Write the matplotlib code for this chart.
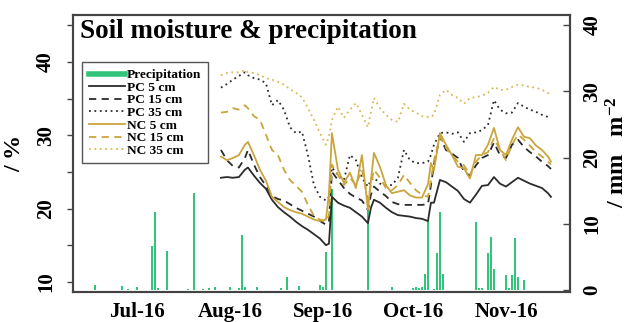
import matplotlib
matplotlib.use("Agg")
import matplotlib.pyplot as plt
import matplotlib.dates as mdates
from matplotlib.ticker import MultipleLocator, FixedLocator
from matplotlib.lines import Line2D
import pandas as pd

# ---- soil moisture (%), sampled dates ----
sm_dates = [
    "2016-07-29", "2016-07-31", "2016-08-02", "2016-08-04", "2016-08-06", "2016-08-07",
    "2016-08-09", "2016-08-11", "2016-08-13", "2016-08-15", "2016-08-17", "2016-08-19",
    "2016-08-21", "2016-08-23", "2016-08-25", "2016-08-27", "2016-08-29", "2016-08-31",
    "2016-09-02", "2016-09-03", "2016-09-04", "2016-09-06", "2016-09-08", "2016-09-10",
    "2016-09-12", "2016-09-14", "2016-09-16", "2016-09-17", "2016-09-18", "2016-09-20",
    "2016-09-22", "2016-09-24", "2016-09-26", "2016-09-28", "2016-09-30", "2016-10-02",
    "2016-10-04", "2016-10-06", "2016-10-07", "2016-10-08", "2016-10-10", "2016-10-12",
    "2016-10-14", "2016-10-16", "2016-10-18", "2016-10-20", "2016-10-22", "2016-10-24",
    "2016-10-26", "2016-10-28", "2016-10-30", "2016-11-01", "2016-11-03", "2016-11-05",
    "2016-11-07", "2016-11-09", "2016-11-11", "2016-11-13", "2016-11-15", "2016-11-16",
]

pc_5 = [24.2, 24.3, 24.2, 24.3, 25.3, 25.6, 24.5, 23.5, 22.7, 21.2,
        20.2, 19.5, 18.9, 18.2, 17.6, 17.1, 16.5, 15.9, 15.0, 15.2,
        21.6, 20.8, 20.4, 20.1, 19.5, 18.9, 18.0, 20.1, 21.2, 20.8,
        20.1, 19.5, 19.1, 19.0, 18.9, 18.7, 18.6, 18.3, 20.8, 20.8,
        23.9, 23.6, 23.0, 22.4, 21.3, 20.8, 21.9, 23.1, 23.2, 24.3,
        23.4, 23.0, 23.6, 24.2, 23.8, 23.4, 23.1, 22.8, 22.1, 21.6]

pc_15 = [28.0, 26.6, 25.8, 25.6, 26.9, 28.0, 26.0, 24.3, 23.1, 21.7,
         21.3, 21.1, 20.6, 20.1, 19.7, 19.3, 18.9, 18.3, 17.8, 18.2,
         25.0, 23.9, 22.8, 22.0, 21.5, 21.1, 19.8, 21.9, 23.0, 22.3,
         21.7, 20.9, 20.6, 20.5, 20.5, 20.5, 20.5, 20.6, 23.2, 26.0,
         29.8, 28.0, 27.5, 26.9, 25.0, 24.5, 25.9, 26.9, 27.3, 29.0,
         27.3, 26.9, 28.7, 29.4, 28.4, 27.7, 27.1, 26.4, 25.8, 25.4]

pc_35 = [36.5, 37.0, 37.6, 38.1, 38.6, 38.2, 37.8, 37.6, 37.1, 34.1,
         34.8, 33.5, 31.1, 30.3, 30.5, 27.3, 23.2, 21.6, 21.1, 21.6,
         25.6, 24.6, 23.9, 27.3, 26.6, 24.2, 23.0, 23.9, 24.2, 23.4,
         23.2, 23.2, 24.2, 28.0, 26.6, 26.2, 26.2, 26.4, 27.3, 28.7,
         30.3, 30.4, 30.2, 30.4, 29.1, 30.3, 30.4, 30.7, 31.4, 34.8,
         33.5, 33.0, 33.1, 34.4, 33.9, 33.5, 33.2, 32.8, 32.5, 32.4]

nc_5 = [27.1, 26.6, 26.9, 27.3, 28.7, 29.1, 27.3, 25.3, 23.8, 21.6,
        20.9, 20.2, 19.8, 19.5, 19.3, 18.9, 18.5, 18.3, 18.5, 22.0,
        30.3, 25.3, 23.5, 24.9, 22.8, 27.3, 19.8, 23.9, 27.6, 25.7,
        23.2, 22.1, 22.3, 22.5, 21.8, 21.5, 21.5, 23.3, 26.2, 25.2,
        30.3, 28.7, 27.3, 25.7, 25.5, 24.1, 27.3, 27.3, 28.7, 31.0,
        28.0, 27.3, 29.4, 31.1, 29.8, 29.6, 28.6, 28.0, 27.1, 26.4]

nc_15 = [33.1, 33.2, 33.7, 33.5, 34.1, 33.7, 32.6, 32.1, 30.1, 28.0,
         27.3, 25.3, 23.9, 23.1, 22.3, 20.5, 19.0, 18.5, 18.2, 19.1,
         26.0, 24.6, 23.2, 24.2, 23.2, 25.3, 21.2, 23.2, 25.3, 24.2,
         22.8, 22.5, 23.2, 24.6, 23.5, 22.5, 21.9, 21.6, 23.9, 26.6,
         29.8, 28.3, 27.3, 26.4, 25.9, 24.6, 26.4, 27.3, 27.7, 29.6,
         28.0, 26.6, 28.7, 30.1, 29.4, 28.6, 27.7, 27.1, 26.4, 26.0]

nc_35 = [38.2, 38.5, 38.6, 38.6, 38.9, 38.6, 38.5, 38.2, 37.8, 37.6,
         37.3, 36.9, 36.3, 35.8, 35.2, 33.7, 32.1, 30.3, 28.7, 29.8,
         32.1, 33.9, 32.4, 33.5, 34.4, 32.8, 31.1, 33.2, 35.1, 33.7,
         32.8, 32.1, 31.8, 34.3, 33.5, 33.1, 32.6, 32.5, 32.5, 32.8,
         35.5, 36.2, 35.5, 35.1, 34.3, 35.1, 35.2, 35.4, 35.8, 36.6,
         36.2, 36.2, 36.6, 36.9, 36.8, 36.6, 36.5, 36.2, 35.8, 35.4]

# ---- daily precipitation (mm m^-2) ----
rain_dates = [
    "2016-06-17", "2016-06-26", "2016-06-28", "2016-07-01", "2016-07-06", "2016-07-07",
    "2016-07-08", "2016-07-11", "2016-07-18", "2016-07-20", "2016-07-23", "2016-07-25",
    "2016-07-27", "2016-08-01", "2016-08-04", "2016-08-05", "2016-08-06", "2016-08-10",
    "2016-08-18", "2016-08-20", "2016-08-24", "2016-08-31", "2016-09-01", "2016-09-02",
    "2016-09-04", "2016-09-16", "2016-09-24", "2016-10-01", "2016-10-02", "2016-10-03",
    "2016-10-04", "2016-10-05", "2016-10-06", "2016-10-08", "2016-10-09", "2016-10-10",
    "2016-10-11", "2016-10-22", "2016-10-23", "2016-10-24", "2016-10-26", "2016-10-27",
    "2016-10-28", "2016-11-01", "2016-11-02", "2016-11-03", "2016-11-04", "2016-11-05",
    "2016-11-07",
]
rain_mm = [0.8, 0.6, 0.2, 0.45, 6.7, 11.8,
           0.3, 5.9, 0.2, 14.7, 0.2, 0.3,
           0.4, 0.5, 0.3, 8.3, 0.5, 0.45,
           0.3, 2.0, 0.6, 0.8, 0.4, 5.8,
           15.2, 13.4, 0.5, 0.3, 0.4, 0.3,
           0.5, 2.4, 10.6, 0.2, 5.6, 11.8,
           2.4, 10.3, 0.3, 0.3, 5.6, 8.0,
           3.2, 2.3, 0.3, 2.3, 7.9, 2.0,
           1.5]

month_ticks = ["2016-07-01", "2016-08-01", "2016-09-01", "2016-10-01", "2016-11-01"]

SERIF = "Liberation Serif"
plt.rcParams["font.family"] = [SERIF, "DejaVu Serif"]
plt.rcParams["font.weight"] = "bold"
plt.rcParams["mathtext.fontset"] = "custom"
plt.rcParams["mathtext.rm"] = "Liberation Serif:bold"
plt.rcParams["mathtext.bf"] = "Liberation Serif:bold"
plt.rcParams["mathtext.it"] = "Liberation Serif:bold"

GREEN = "#33c37a"
DARK = "#2b2b2b"
GOLD = "#caa53d"
GOLD_LIGHT = "#d8b955"
FRAME = "#444444"

sm_t = pd.to_datetime(sm_dates)
rain_t = pd.to_datetime(rain_dates)

fig = plt.figure(figsize=(6.34, 3.22), dpi=100)
ax = fig.add_axes([0.115, 0.093, 0.784, 0.860])
ax2 = ax.twinx()

# precipitation bars on the right axis, behind the soil moisture lines
ax2.bar(rain_t, rain_mm, width=0.6, color=GREEN, edgecolor="none", zorder=1)
ax2.set_ylim(-0.3, 41.5)
ax2.yaxis.set_major_locator(FixedLocator([0, 10, 20, 30, 40]))
ax2.tick_params(axis="y", direction="in", length=5, width=1, color=FRAME,
                labelsize=15, pad=9)
for lab in ax2.get_yticklabels():
    lab.set_rotation(90)
    lab.set_va("center")
fig.text(618 / 634, 1 - 152 / 322, "/ mm   m$^{-2}$", rotation=90,
         ha="center", va="center", fontsize=17.5, fontweight="bold")

ax.set_zorder(ax2.get_zorder() + 1)
ax.patch.set_visible(False)

lw = 1.3
ax.plot(sm_t, pc_5, color=DARK, lw=lw, ls="-")
ax.plot(sm_t, pc_15, color=DARK, lw=lw, ls=(0, (4, 3)))
ax.plot(sm_t, pc_35, color=DARK, lw=lw, ls=(0, (1, 2)))
ax.plot(sm_t, nc_5, color=GOLD, lw=lw, ls="-")
ax.plot(sm_t, nc_15, color=GOLD, lw=lw, ls=(0, (4, 3)))
ax.plot(sm_t, nc_35, color=GOLD_LIGHT, lw=lw, ls=(0, (1, 2)))

ax.set_ylim(8.6, 46.4)
ax.yaxis.set_major_locator(MultipleLocator(10))
ax.yaxis.set_minor_locator(MultipleLocator(5))
ax.tick_params(axis="y", which="both", direction="out", length=4, width=1,
               color=FRAME, labelsize=15, pad=8)
for lab in ax.get_yticklabels():
    lab.set_rotation(90)
    lab.set_va("center")
ax.set_ylabel("/ %", fontsize=17.5, fontweight="bold", labelpad=8)

ax.set_xlim(pd.Timestamp("2016-06-09 16:00"), pd.Timestamp("2016-11-22 08:00"))
ax.xaxis.set_major_locator(FixedLocator(mdates.date2num(pd.to_datetime(month_ticks))))
ax.xaxis.set_major_formatter(mdates.DateFormatter("%b-%y"))
ax.tick_params(axis="x", length=0, labelsize=15, pad=7)

for a in (ax, ax2):
    for s in a.spines.values():
        s.set_color(FRAME)
        s.set_linewidth(1.5)

ax.text(0.015, 0.985, "Soil moisture & precipitation", transform=ax.transAxes,
        ha="left", va="top", fontsize=19.5, fontweight="bold")

handles = [
    Line2D([], [], color=GREEN, lw=4),
    Line2D([], [], color=DARK, lw=lw, ls="-"),
    Line2D([], [], color=DARK, lw=lw, ls=(0, (4, 3))),
    Line2D([], [], color=DARK, lw=lw, ls=(0, (1, 2))),
    Line2D([], [], color=GOLD, lw=lw, ls="-"),
    Line2D([], [], color=GOLD, lw=lw, ls=(0, (4, 3))),
    Line2D([], [], color=GOLD_LIGHT, lw=lw, ls=(0, (1, 2))),
]
labels = ["Precipitation", "PC 5 cm", "PC 15 cm", "PC 35 cm",
          "NC 5 cm", "NC 15 cm", "NC 35 cm"]
leg = ax.legend(handles, labels, loc="upper left", bbox_to_anchor=(0.018, 0.830),
                prop={"family": SERIF, "weight": "bold", "size": 9.6},
                labelspacing=0.02, handlelength=2.7, handletextpad=0.2,
                borderpad=0.5, borderaxespad=0.0, fancybox=False,
                frameon=True, framealpha=1)
leg.get_frame().set_edgecolor("#555555")
leg.get_frame().set_linewidth(1.0)

fig.savefig("out.png", dpi=100)
